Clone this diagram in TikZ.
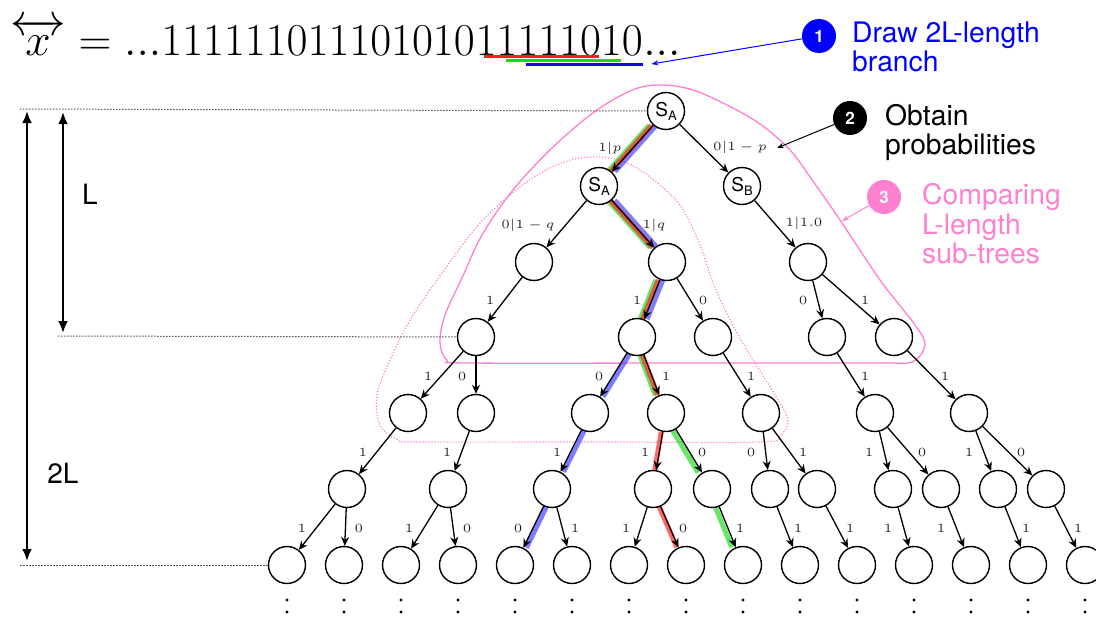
\documentclass[tikz,border=0pt]{standalone}
\usepackage{amsmath}
\usepackage[no-math]{fontspec}
\newfontfamily\hv{TeX Gyre Heros}
\usetikzlibrary{arrows.meta,backgrounds,calc}
\definecolor{pk}{RGB}{255,128,208}
\definecolor{hlr}{RGB}{255,40,40}
\definecolor{hlg}{RGB}{40,220,40}
\definecolor{hlb}{RGB}{70,70,255}
\definecolor{ulr}{RGB}{255,30,30}
\definecolor{ulg}{RGB}{20,220,20}
\definecolor{ulb}{RGB}{10,10,230}
\newcommand{\elab}[1]{\scalebox{2.5}{\tiny$#1$}}
\newcommand{\fbig}[1]{\scalebox{2.64}{\LARGE$#1$}}
\newcommand{\SA}{S\raisebox{-4pt}{\fontsize{13}{13}\selectfont A}}
\newcommand{\SB}{S\raisebox{-4pt}{\fontsize{13}{13}\selectfont B}}
\begin{document}
\begin{tikzpicture}[x=1pt,y=-1pt,
  st/.style={circle, draw, line width=1.4pt, fill=white, minimum size=37pt, inner sep=0pt, font=\hv\fontsize{19}{20}\selectfont},
  ed/.style={line width=1.3pt, -{Stealth[length=9pt,width=8pt,inset=3pt]}},
  lb/.style={inner sep=0pt, text=black!85},
  hl/.style={line width=5pt, opacity=0.7},
  sidetxt/.style={anchor=base west, inner sep=0pt, font=\hv\fontsize{28.3}{30}\selectfont},
  num/.style={circle, inner sep=0pt, minimum size=34pt, text=white, font=\hv\bfseries\fontsize{17}{17}\selectfont},
  guide/.style={dash pattern=on 1.5pt off 1.5pt, line width=1pt, black!65},
  dim/.style={line width=2.5pt, {Latex[length=12pt,width=10pt]}-{Latex[length=12pt,width=10pt]}},
  pointer/.style={line width=1pt, -{Stealth[length=7pt,width=5pt]}},
  hull/.style={pk, line width=1.3pt},
  dhull/.style={pk, line width=1.2pt, dash pattern=on 1.2pt off 1.8pt},
  fpart/.style={anchor=base west, inner sep=0pt}
]
\useasboundingbox (0,0) rectangle (1096,621);

% formula
\node[fpart] (fa) at (10,55) {\fbig{\overleftrightarrow{x} = ...111111011101010}};
\node[fpart] (fb) at (fa.base east) {\fbig{11111010}};
\node[fpart] (fc) at (fb.base east) {\fbig{...}};
\draw[ulr, line width=3pt] ($(fb.base west)+(9,1)$) -- ++(115,0);
\draw[ulg, line width=3pt] ($(fb.base west)+(31,5)$) -- ++(115,0);
\draw[ulb, line width=3pt] ($(fb.base west)+(51,9)$) -- ++(117,0);
\coordinate (bu) at ($(fb.base west)+(176,9)$);

% side notes
\node[num, fill=blue] (n1) at (819,36) {1};
\node[sidetxt, text=blue] (t1a) at (852,42) {Draw 2L-length};
\node[sidetxt, text=blue] (t1b) at (852,71) {branch};
\node[num, fill=black] (n2) at (850,118) {2};
\node[sidetxt] (t2a) at (885,125) {Obtain};
\node[sidetxt] (t2b) at (885,154) {probabilities};
\node[num, fill=pk] (n3) at (884,197) {3};
\node[sidetxt, text=pk] (t3a) at (922,204) {Comparing};
\node[sidetxt, text=pk] (t3b) at (922,234) {L-length};
\node[sidetxt, text=pk] (t3c) at (922,263) {sub-trees};
\coordinate (p2) at (777,148);
\coordinate (p3) at (842,221);
\draw[pointer, blue] (n1) -- (bu);
\draw[pointer, black] (n2) -- (p2);
\draw[pointer, pk] (n3) -- (p3);

% tree nodes
\node[st] (r0) at (666,111) {\SA};
\node[st] (a1) at (599,186) {\SA};
\node[st] (b1) at (742,186) {\SB};
\node[st] (c1) at (534,262) {};
\node[st] (c2) at (667,262) {};
\node[st] (c3) at (808,262) {};
\node[st] (d1) at (476,337) {};
\node[st] (d2) at (637,337) {};
\node[st] (d3) at (713,337) {};
\node[st] (d4) at (827,337) {};
\node[st] (d5) at (894,337) {};
\node[st] (e1) at (408,413) {};
\node[st] (e2) at (476,413) {};
\node[st] (e3) at (590,413) {};
\node[st] (e4) at (666,413) {};
\node[st] (e5) at (761,413) {};
\node[st] (e6) at (875,413) {};
\node[st] (e7) at (969,413) {};
\foreach \n/\x in {1/347,2/448,3/552,4/653,5/712,6/770,7/817,8/893,9/941,10/998,11/1046}
  \node[st] (f\n) at (\x,489) {};
\foreach \i in {1,...,15} {
  \node[st] (g\i) at ({287+57*(\i-1)},565) {};
  \foreach \yy in {600,612,624} \fill ({287+57*(\i-1)},\yy) circle (1.6pt);
}

% edges with labels
\foreach \a/\b/\t/\x/\y in {
  r0/a1/1|p/610/148, r0/b1/0|1-p/740/147,
  a1/c1/0|1-q/528/225, a1/c2/1|q/654/225, b1/c3/1|1.0/804/223,
  c1/d1/1/490/300, c2/d2/1/637/300, c2/d3/0/703/300, c3/d4/0/803/300, c3/d5/1/865/300,
  d1/e1/1/428/376, d1/e2/0/462/376, d2/e3/0/599/376, d2/e4/1/666/376, d3/e5/1/751/376,
  d4/e6/1/865/376, d5/e7/1/945/376,
  e1/f1/1/363/452, e2/f2/1/447/452, e3/f3/1/557/452, e4/f4/1/645/452, e4/f5/0/702/452,
  e5/f6/0/751/452, e5/f7/1/803/452, e6/f8/1/869/452, e6/f9/0/922/452,
  e7/f10/1/969/452, e7/f11/0/1021/452,
  f1/g1/1/302/528, f1/g2/0/359/528, f2/g3/1/409/528, f2/g4/0/467/528,
  f3/g5/0/518/528, f3/g6/1/575/528, f4/g7/1/626/528, f4/g8/0/683/528,
  f5/g9/1/740/528, f6/g10/1/798/528, f7/g11/1/850/528, f8/g12/1/888/528,
  f9/g13/1/941/528, f10/g14/1/1026/528, f11/g15/1/1078/528} {
  \draw[ed] (\a) -- (\b);
  \node[lb] at (\x,\y) {\elab{\t}};
}

% guides and dimensions
\coordinate (gl0) at (20,109);
\coordinate (gl1) at (58,336);
\coordinate (gl2) at (20,565);
\draw[guide] (gl0) -- (r0.west);
\draw[guide] (gl1) -- (d1.west);
\draw[guide] (gl2) -- (g1.west);
\coordinate (v2t) at (27,111);
\coordinate (v2b) at (27,561);
\coordinate (v1t) at (63,112);
\coordinate (v1b) at (63,333);
\draw[dim] (v2t) -- (v2b);
\draw[dim] (v1t) -- (v1b);
\node[font=\hv\fontsize{28}{30}\selectfont] (lL) at (90,194) {L};
\node[font=\hv\fontsize{28}{30}\selectfont] (l2L) at (63,473) {2L};

\begin{pgfonlayer}{background}
\draw[hull] plot[smooth cycle, tension=0.55] coordinates {
  (663,85) (693,90) (727,105) (760,124) (790,150) (815,184) (840,220) (880,280)
  (915,325) (925,345) (912,362) (880,363) (700,363) (470,363) (447,360) (440,342)
  (445,315) (462,278) (482,235) (513,190) (553,147) (597,110) (635,89)};
\draw[dhull] plot[smooth cycle, tension=0.55] coordinates {
  (600,157) (625,162) (650,177) (680,205) (700,245) (712,280) (730,320) (750,355)
  (775,395) (788,420) (780,436) (760,442) (600,442) (420,442) (398,440) (380,425)
  (377,395) (390,360) (410,320) (442,273) (480,223) (520,187) (550,168) (575,159)};
\foreach \a/\b in {r0/a1,a1/c2,c2/d2,d2/e4,e4/f5,f5/g9}
  \draw[hl,hlg,transform canvas={xshift=-4pt}] (\a) -- (\b);
\foreach \a/\b in {r0/a1,a1/c2,c2/d2,d2/e3,e3/f3,f3/g5}
  \draw[hl,hlb,transform canvas={xshift=3pt}] (\a) -- (\b);
\foreach \a/\b in {r0/a1,a1/c2,c2/d2,d2/e4,e4/f4,f4/g8}
  \draw[hl,hlr,transform canvas={xshift=-1.5pt}] (\a) -- (\b);
\end{pgfonlayer}
\end{tikzpicture}
\end{document}
